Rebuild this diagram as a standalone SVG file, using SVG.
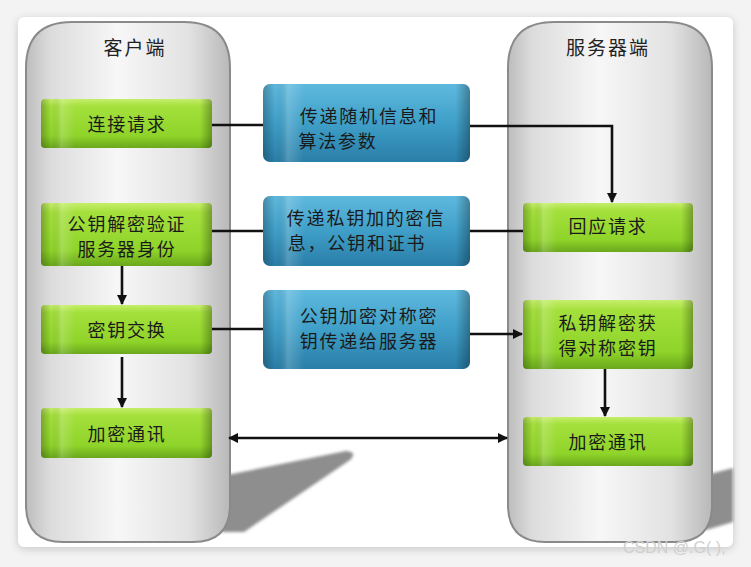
<svg xmlns="http://www.w3.org/2000/svg" width="751" height="567" viewBox="0 0 751 567">
<defs>
<style>
.t{font-family:"Noto Sans CJK SC","Liberation Sans",sans-serif;font-size:18px;fill:#1a1a1a;text-anchor:middle;letter-spacing:1.8px}
.tt{font-family:"Noto Sans CJK SC","Liberation Sans",sans-serif;font-size:19px;fill:#222;text-anchor:middle;letter-spacing:2px}
.ln{stroke:#111;stroke-width:2.6;fill:none}
.pill{fill:url(#gPill);stroke:#8a8a8a;stroke-width:2}
.g{fill:url(#gGreen)}
.b{fill:url(#gBlue)}
</style>
<linearGradient id="gPill" x1="0" y1="0" x2="1" y2="0">
<stop offset="0" stop-color="#bdbdbd"/>
<stop offset="0.12" stop-color="#dcdcdc"/>
<stop offset="0.45" stop-color="#f7f7f7"/>
<stop offset="0.8" stop-color="#e2e2e2"/>
<stop offset="1" stop-color="#b8b8b8"/>
</linearGradient>
<linearGradient id="gGreen" x1="0" y1="0" x2="0" y2="1">
<stop offset="0" stop-color="#c6ee6a"/>
<stop offset="0.15" stop-color="#a4e03c"/>
<stop offset="0.75" stop-color="#8fd42a"/>
<stop offset="1" stop-color="#6aa81c"/>
</linearGradient>
<linearGradient id="gBlue" x1="0" y1="0" x2="0" y2="1">
<stop offset="0" stop-color="#5fb9de"/>
<stop offset="0.5" stop-color="#3f9fc8"/>
<stop offset="1" stop-color="#2a7ea8"/>
</linearGradient>
<linearGradient id="gEdge" x1="0" y1="0" x2="1" y2="0">
<stop offset="0" stop-color="#000" stop-opacity="0.25"/>
<stop offset="0.06" stop-color="#000" stop-opacity="0"/>
<stop offset="0.12" stop-color="#fff" stop-opacity="0.18"/>
<stop offset="0.2" stop-color="#fff" stop-opacity="0"/>
<stop offset="0.93" stop-color="#000" stop-opacity="0"/>
<stop offset="1" stop-color="#000" stop-opacity="0.3"/>
</linearGradient>
<filter id="sh" x="-5%" y="-5%" width="110%" height="110%">
<feGaussianBlur stdDeviation="4"/>
</filter>
<filter id="sb" x="-10%" y="-10%" width="120%" height="120%">
<feGaussianBlur stdDeviation="1.5"/>
</filter>
<marker id="ar" viewBox="0 0 10 10" refX="9" refY="5" markerWidth="4" markerHeight="4" orient="auto-start-reverse">
<path d="M0,0 L10,5 L0,10 Z" fill="#111"/>
</marker>
</defs>

<rect x="0" y="0" width="751" height="567" fill="#f3f3f3"/>
<rect x="18" y="19" width="715" height="530" rx="6" fill="#000" opacity="0.18" filter="url(#sh)"/>
<rect x="18" y="17" width="715" height="530" rx="6" fill="#fff"/>

<!-- shadows -->
<path d="M222,476 L346,451 Q358,452 350,460 L244,532 L222,532 Z" fill="#8e8e8e" filter="url(#sb)"/>
<path d="M706,475 L733,468 L733,522 L706,530 Z" fill="#8e8e8e" filter="url(#sb)"/>

<g id="client">
<path class="pill" d="M26,68 Q26,22 72,22 H184 Q230,22 230,68 V505 Q230,542 193,542 H63 Q26,542 26,505 Z"/>
<text class="tt" x="135" y="55">客户端</text>
</g>
<g id="server">
<path class="pill" d="M508,68 Q508,22 554,22 H666 Q712,22 712,68 V505 Q712,542 675,542 H545 Q508,542 508,505 Z"/>
<text class="tt" x="608" y="55">服务器端</text>
</g>

<g id="c1"><rect class="g" x="41" y="99" width="171" height="49" rx="4"/><rect x="41" y="99" width="171" height="49" rx="4" fill="url(#gEdge)"/><text class="t" x="127" y="131">连接请求</text></g>
<g id="c2"><rect class="g" x="41" y="203" width="171" height="63" rx="4"/><rect x="41" y="203" width="171" height="63" rx="4" fill="url(#gEdge)"/><text class="t" x="127" y="231">公钥解密验证</text><text class="t" x="127" y="256">服务器身份</text></g>
<g id="c3"><rect class="g" x="41" y="305" width="171" height="49" rx="4"/><rect x="41" y="305" width="171" height="49" rx="4" fill="url(#gEdge)"/><text class="t" x="127" y="337">密钥交换</text></g>
<g id="c4"><rect class="g" x="41" y="408" width="171" height="50" rx="4"/><rect x="41" y="408" width="171" height="50" rx="4" fill="url(#gEdge)"/><text class="t" x="127" y="441">加密通讯</text></g>

<g id="s1"><rect class="g" x="523" y="203" width="170" height="49" rx="4"/><rect x="523" y="203" width="170" height="49" rx="4" fill="url(#gEdge)"/><text class="t" x="608" y="233">回应请求</text></g>
<g id="s2"><rect class="g" x="523" y="300" width="170" height="69" rx="4"/><rect x="523" y="300" width="170" height="69" rx="4" fill="url(#gEdge)"/><text class="t" x="608" y="330">私钥解密获</text><text class="t" x="608" y="355">得对称密钥</text></g>
<g id="s3"><rect class="g" x="523" y="417" width="170" height="49" rx="4"/><rect x="523" y="417" width="170" height="49" rx="4" fill="url(#gEdge)"/><text class="t" x="608" y="449">加密通讯</text></g>

<g id="m1"><rect class="b" x="263" y="84" width="207" height="78" rx="7"/><rect x="263" y="84" width="207" height="78" rx="7" fill="url(#gEdge)"/><text class="t" x="369" y="123">传递随机信息和</text><text class="t" x="338" y="148">算法参数</text></g>
<g id="m2"><rect class="b" x="263" y="196" width="207" height="70" rx="7"/><rect x="263" y="196" width="207" height="70" rx="7" fill="url(#gEdge)"/><text class="t" x="366" y="225">传递私钥加的密信</text><text class="t" x="357" y="250">息，公钥和证书</text></g>
<g id="m3"><rect class="b" x="263" y="290" width="207" height="79" rx="7"/><rect x="263" y="290" width="207" height="79" rx="7" fill="url(#gEdge)"/><text class="t" x="369" y="323">公钥加密对称密</text><text class="t" x="369" y="348">钥传递给服务器</text></g>

<g id="connectors">
<path class="ln" d="M212,125 H263"/>
<path class="ln" d="M470,126 H612 V202" marker-end="url(#ar)"/>
<path class="ln" d="M212,231 H263"/>
<path class="ln" d="M470,231 H523"/>
<path class="ln" d="M212,329 H263"/>
<path class="ln" d="M470,334 H522" marker-end="url(#ar)"/>
<path class="ln" d="M122,266 V304" marker-end="url(#ar)"/>
<path class="ln" d="M122,357 V407" marker-end="url(#ar)"/>
<path class="ln" d="M605,369 V416" marker-end="url(#ar)"/>
<path class="ln" d="M229,438 H507" marker-start="url(#ar)" marker-end="url(#ar)"/>
</g>

<text x="623" y="553" font-family="Liberation Sans, sans-serif" font-size="16" fill="#cfcfcf">CSDN @.G( ),</text>
</svg>
